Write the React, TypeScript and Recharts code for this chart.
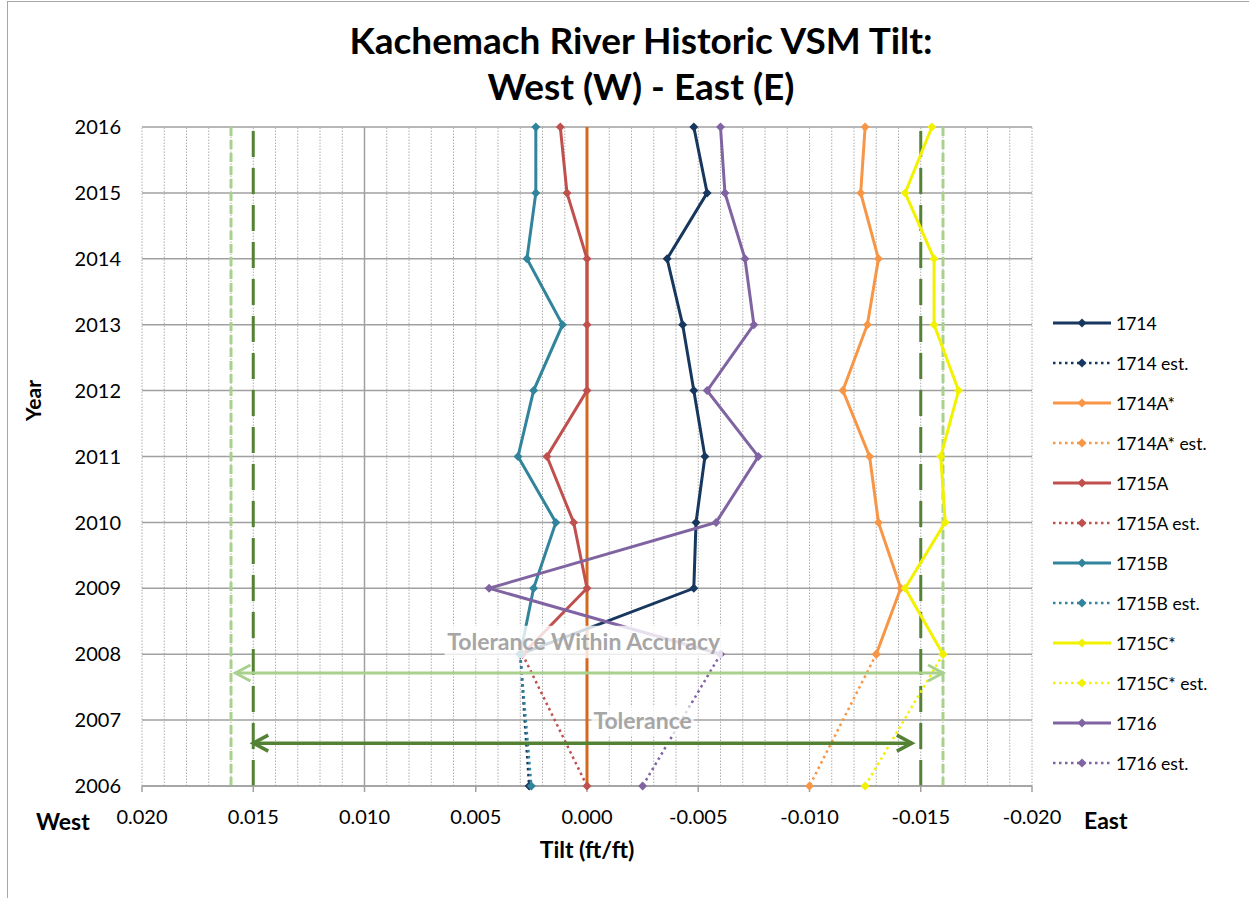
import React from "react";
import {
  ScatterChart,
  Scatter,
  XAxis,
  YAxis,
  CartesianGrid,
  ReferenceLine,
  ReferenceArea,
  Legend,
} from "recharts";

// years read top-down from the chart
const YEARS = [2016, 2015, 2014, 2013, 2012, 2011, 2010, 2009, 2008];
const EST_YEARS = [2008, 2006];
const Y_TICKS = [2006, 2007, 2008, 2009, 2010, 2011, 2012, 2013, 2014, 2015, 2016];
const X_TICKS = [0.02, 0.015, 0.01, 0.005, 0, -0.005, -0.01, -0.015, -0.02];

// tilt (ft/ft) per year, positive = west
const T_1714 = [-0.0048, -0.0054, -0.0036, -0.0043, -0.0048, -0.0053, -0.0049, -0.0048, 0.003];
const T_1714_EST = [0.003, 0.0026];
const T_1714A = [-0.0125, -0.0123, -0.0131, -0.0126, -0.0115, -0.0127, -0.0131, -0.0141, -0.013];
const T_1714A_EST = [-0.013, -0.01];
const T_1715A = [0.0012, 0.0009, 0, 0, 0, 0.0018, 0.0006, 0, 0.0029];
const T_1715A_EST = [0.0029, 0];
const T_1715B = [0.0023, 0.0023, 0.0027, 0.0011, 0.0024, 0.0031, 0.0014, 0.0024, 0.003];
const T_1715B_EST = [0.003, 0.0025];
const T_1715C = [-0.0155, -0.0143, -0.0156, -0.0156, -0.0167, -0.0159, -0.0161, -0.0143, -0.016];
const T_1715C_EST = [-0.016, -0.0125];
const T_1716 = [-0.006, -0.0062, -0.0071, -0.0075, -0.0054, -0.0077, -0.0058, 0.0044, -0.006];
const T_1716_EST = [-0.006, -0.0025];

const TOLERANCE = 0.015;
const TOLERANCE_ACC = 0.016;

const FONT = "Lato, 'Open Sans', sans-serif";

const toPoints = (tilts: number[], years: number[]) =>
  tilts.map((x, i) => ({ x, y: years[i] }));

const SERIES = [
  { name: "1714", color: "#17375E", data: toPoints(T_1714, YEARS), est: false },
  { name: "1714 est.", color: "#17375E", data: toPoints(T_1714_EST, EST_YEARS), est: true },
  { name: "1714A*", color: "#F79646", data: toPoints(T_1714A, YEARS), est: false },
  { name: "1714A* est.", color: "#F79646", data: toPoints(T_1714A_EST, EST_YEARS), est: true },
  { name: "1715A", color: "#C0504D", data: toPoints(T_1715A, YEARS), est: false },
  { name: "1715A est.", color: "#C0504D", data: toPoints(T_1715A_EST, EST_YEARS), est: true },
  { name: "1715B", color: "#31849B", data: toPoints(T_1715B, YEARS), est: false },
  { name: "1715B est.", color: "#31849B", data: toPoints(T_1715B_EST, EST_YEARS), est: true },
  { name: "1715C*", color: "#F2F200", data: toPoints(T_1715C, YEARS), est: false },
  { name: "1715C* est.", color: "#F2F200", data: toPoints(T_1715C_EST, EST_YEARS), est: true },
  { name: "1716", color: "#8064A2", data: toPoints(T_1716, YEARS), est: false },
  { name: "1716 est.", color: "#8064A2", data: toPoints(T_1716_EST, EST_YEARS), est: true },
];

// dotted minor gridlines every 0.001
const MINOR_X = Array.from({ length: 41 }, (_, i) => Math.round((0.02 - i * 0.001) * 1e4) / 1e4).filter(
  (v) => v !== 0 && v !== 0.01
);

const diamond = (color: string) => (props: any) => {
  const { cx, cy } = props;
  if (cx == null || cy == null) return <g />;
  const r = 4.5;
  return (
    <polygon
      points={`${cx},${cy - r} ${cx + r},${cy} ${cx},${cy + r} ${cx - r},${cy}`}
      fill={color}
    />
  );
};

const arrowShape = (color: string, width: number) => (props: any) => {
  const { x1, y1, x2, y2 } = props;
  const left = Math.min(x1, x2);
  const right = Math.max(x1, x2);
  const y = y1;
  const h = 15;
  const d = 8;
  return (
    <g>
      <line x1={left} y1={y} x2={right} y2={y2} stroke={color} strokeWidth={width} />
      <polyline
        points={`${left + h},${y - d} ${left},${y} ${left + h},${y + d}`}
        fill="none"
        stroke={color}
        strokeWidth={width}
      />
      <polyline
        points={`${right - h},${y - d} ${right},${y} ${right - h},${y + d}`}
        fill="none"
        stroke={color}
        strokeWidth={width}
      />
    </g>
  );
};

const renderLegend = () => (
  <div style={{ fontFamily: FONT, fontSize: 17.5, color: "#000" }}>
    {SERIES.map((s) => (
      <div key={s.name} style={{ display: "flex", alignItems: "center", height: 40 }}>
        <svg width={62} height={12} style={{ marginRight: 2 }}>
          <line
            x1={1}
            y1={6}
            x2={59}
            y2={6}
            stroke={s.color}
            strokeWidth={s.est ? 2.5 : 3}
            strokeDasharray={s.est ? "2.5 3.5" : undefined}
          />
          <polygon points="30,1.5 34.5,6 30,10.5 25.5,6" fill={s.color} />
        </svg>
        <span>{s.name}</span>
      </div>
    ))}
  </div>
);

const boldLabel = { fontWeight: 700, fontSize: 23, color: "#000", position: "absolute" as const };

export default function App() {
  return (
    <div
      style={{
        position: "absolute",
        left: 0,
        top: 0,
        width: 1249,
        height: 898,
        overflow: "hidden",
        background: "#fff",
        fontFamily: FONT,
      }}
    >
      <div
        style={{
          position: "absolute",
          left: 7,
          top: 1,
          width: 1400,
          height: 1000,
          border: "1px solid #A6A6A6",
        }}
      />
      <div
        style={{
          position: "absolute",
          left: 0,
          top: 17,
          width: 1282,
          textAlign: "center",
          fontWeight: 700,
          fontSize: 37,
          lineHeight: "46px",
          color: "#000",
        }}
      >
        Kachemach River Historic VSM Tilt:
        <br />
        West (W) - East (E)
      </div>
      <div
        style={{
          ...boldLabel,
          fontSize: 21,
          left: 12,
          top: 388,
          transform: "rotate(-90deg)",
          transformOrigin: "center",
        }}
      >
        Year
      </div>
      <div style={{ ...boldLabel, left: 36, top: 807 }}>West</div>
      <div style={{ ...boldLabel, left: 1084, top: 806 }}>East</div>

      <ScatterChart width={1249} height={898} margin={{ top: 127, right: 217, bottom: 0, left: 0 }}>
        <CartesianGrid vertical={false} stroke="#A0A0A0" strokeWidth={1.5} />
        {MINOR_X.map((v) => (
          <ReferenceLine key={v} x={v} stroke="#ACACAC" strokeWidth={1} strokeDasharray="1.5 1.5" />
        ))}
        <ReferenceLine x={0.01} stroke="#A0A0A0" strokeWidth={1.5} />
        <XAxis
          type="number"
          dataKey="x"
          domain={[-0.02, 0.02]}
          reversed
          ticks={X_TICKS}
          interval={0}
          allowDataOverflow
          height={112}
          tickFormatter={(v: number) => v.toFixed(3)}
          tick={{ fontSize: 20, fill: "#000", fontFamily: FONT }}
          axisLine={{ stroke: "#A0A0A0", strokeWidth: 1.5 }}
          tickLine={{ stroke: "#A0A0A0", strokeWidth: 1.5 }}
          tickSize={6}
          tickMargin={18}
          label={{
            value: "Tilt (ft/ft)",
            position: "insideTop",
            offset: 56,
            fontSize: 23,
            fontWeight: 700,
            fill: "#000",
            fontFamily: FONT,
          }}
        />
        <YAxis
          type="number"
          dataKey="y"
          domain={[2006, 2016]}
          ticks={Y_TICKS}
          interval={0}
          width={142}
          axisLine={false}
          tickLine={false}
          tickSize={0}
          tickMargin={21}
          tick={{ fontSize: 20, fill: "#000", fontFamily: FONT }}
        />
        <ReferenceLine x={TOLERANCE_ACC} stroke="#A9D18E" strokeWidth={3} strokeDasharray="9 4" />
        <ReferenceLine x={-TOLERANCE_ACC} stroke="#A9D18E" strokeWidth={3} strokeDasharray="9 4" />
        <ReferenceLine x={TOLERANCE} stroke="#548235" strokeWidth={3} strokeDasharray="26 11" />
        <ReferenceLine x={-TOLERANCE} stroke="#548235" strokeWidth={3} strokeDasharray="26 11" />
        <ReferenceLine x={0} stroke="#D2691E" strokeWidth={3} />
        {SERIES.map((s) => (
          <Scatter
            key={s.name}
            name={s.name}
            data={s.data}
            fill={s.color}
            line={{
              stroke: s.color,
              strokeWidth: s.est ? 2.5 : 3,
              strokeDasharray: s.est ? "2.5 3.5" : undefined,
            }}
            shape={diamond(s.color)}
            isAnimationActive={false}
          />
        ))}
        <ReferenceLine
          segment={[
            { x: 0.0158, y: 2007.715 },
            { x: -0.016, y: 2007.715 },
          ]}
          shape={arrowShape("#A9D18E", 3)}
          zIndex={1500}
        />
        <ReferenceLine
          segment={[
            { x: 0.015, y: 2006.65 },
            { x: -0.0146, y: 2006.65 },
          ]}
          shape={arrowShape("#548235", 3.5)}
          zIndex={1500}
        />
        <ReferenceArea
          x1={0.0064}
          x2={-0.0061}
          y1={2007.94}
          y2={2008.43}
          fill="#fff"
          fillOpacity={0.8}
          stroke="none"
          zIndex={1600}
          label={{
            value: "Tolerance Within Accuracy",
            position: "center",
            fill: "#A6A6A6",
            fontSize: 23,
            fontWeight: 700,
            fontFamily: FONT,
          }}
        />
        <ReferenceArea
          x1={-0.0002}
          x2={-0.0048}
          y1={2006.76}
          y2={2007.21}
          fill="#fff"
          fillOpacity={0.75}
          stroke="none"
          zIndex={1600}
          label={{
            value: "Tolerance",
            position: "center",
            fill: "#A6A6A6",
            fontSize: 23,
            fontWeight: 700,
            fontFamily: FONT,
          }}
        />
        <Legend
          layout="vertical"
          align="center"
          verticalAlign="middle"
          content={renderLegend}
          wrapperStyle={{ left: 1052, top: 303, width: 195 }}
        />
      </ScatterChart>
    </div>
  );
}
